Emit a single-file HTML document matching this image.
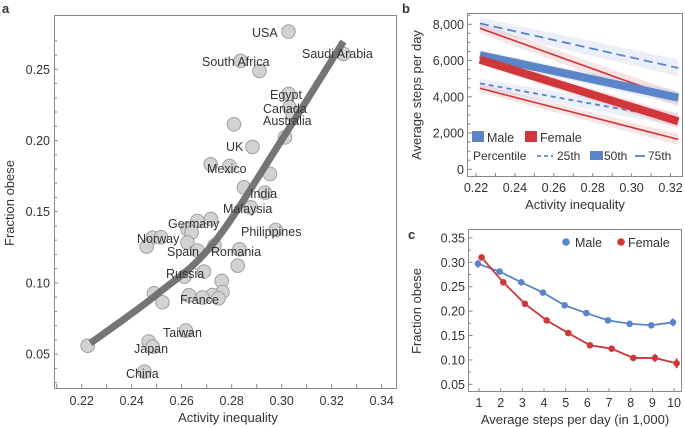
<!DOCTYPE html>
<html><head><meta charset="utf-8">
<style>
body{margin:0;background:#fff;font-family:"Liberation Sans",sans-serif;}
svg{display:block}
text{font-family:"Liberation Sans",sans-serif;fill:#333;}
</style></head>
<body>
<svg id="s" width="685" height="428" viewBox="0 0 685 428"></svg>
<script>
// ---------- Panel a data ----------
const aX=[0.3027,0.3247,0.2836,0.2911,0.3028,0.3031,0.3044,0.2809,0.3013,0.2883,0.2716,0.2791,0.2953,0.2849,0.2933,0.2876,0.2717,0.2663,0.2623,0.264,0.2976,0.2484,0.2517,0.246,0.2623,0.2663,0.2731,0.2831,0.2824,0.2689,0.2611,0.276,0.2763,0.2723,0.2629,0.2683,0.2747,0.2489,0.2523,0.2617,0.2468,0.2484,0.2451,0.2224];
const aY=[0.2765,0.2608,0.2559,0.2488,0.2327,0.2233,0.218,0.2114,0.2022,0.1955,0.1833,0.1821,0.1765,0.1671,0.1634,0.1531,0.1449,0.1435,0.1376,0.1355,0.1372,0.1318,0.132,0.1255,0.1283,0.1227,0.1262,0.1236,0.1121,0.1079,0.1044,0.1014,0.0936,0.0915,0.0913,0.0897,0.0892,0.0927,0.0864,0.0665,0.0588,0.0552,0.0377,0.0559];
const fitX=[0.2235,0.25,0.2727,0.30,0.3247];
const fitY=[0.0577,0.0918,0.1278,0.2004,0.2695];
const aXTicks=[0.22,0.24,0.26,0.28,0.30,0.32,0.34];
const aYTicks=[0.05,0.10,0.15,0.20,0.25];
const countryNames=["USA","Saudi Arabia","South Africa","Egypt","Canada","Australia","UK","Mexico","India","Malaysia","Germany","Philippines","Norway","Spain","Romania","Russia","France","Taiwan","Japan","China"];
const countryPos=[[252,37],[302,58],[202,66],[270,99],[263,113],[263,125],[226,151],[207,173],[250,198],[223,213],[168,228],[241,236],[137,243],[167,256],[211,256],[166,278],[180,304],[163,337],[134,353],[126,378]];
// ---------- Panel b data ----------
const bXTicks=[0.22,0.24,0.26,0.28,0.30,0.32];
const bYTicks=[0,2000,4000,6000,8000];
const bStartX=0.222, bEndX=0.324;
const male25=[8050,5590];
const male50=[6300,3950];
const male75=[4740,2750];
const female25=[7780,3850];
const female50=[6050,2650];
const female75=[4470,1650];
// ---------- Panel c data ----------
const cSteps=[1,2,3,4,5,6,7,8,9,10];
const cMale=[0.297,0.281,0.259,0.238,0.212,0.196,0.181,0.174,0.171,0.177];
const cMaleErr=[0.008,0.004,0.003,0.003,0.003,0.003,0.003,0.004,0.006,0.008];
const cFemale=[0.310,0.259,0.215,0.181,0.155,0.130,0.123,0.104,0.104,0.093];
const cFemaleErr=[0.005,0.003,0.003,0.003,0.003,0.004,0.005,0.006,0.008,0.010];
const cYTicks=[0.05,0.10,0.15,0.20,0.25,0.30,0.35];

const NS="http://www.w3.org/2000/svg";
const svg=document.getElementById('s');
function mk(tag,attrs,parent){const e=document.createElementNS(NS,tag);for(const k in attrs)e.setAttribute(k,attrs[k]);(parent||svg).appendChild(e);return e;}
function txt(x,y,s,attrs){const e=mk('text',Object.assign({x:x,y:y},attrs||{}));e.textContent=s;return e;}

// ===== Panel a =====
const ax=v=>81.7+(v-0.22)*2500;
const ay=v=>69.3-(v-0.25)*1424;
let t=txt(2,13,'a',{'font-weight':'bold','font-size':'13','fill':'#111'});


let fr=mk('rect',{x:54.5,y:15.5,width:342,height:373,fill:'none',stroke:'#888','stroke-width':1});


for(let v=0.21;v<=0.345;v+=0.01){const x=ax(v);mk('line',{x1:x,x2:x,y1:388,y2:384,stroke:'#888'});}
aXTicks.forEach(v=>{const e=txt(ax(v),405,v.toFixed(2),{'text-anchor':'middle','font-size':'12.5'});
 
 });
for(let i=3;i<=27;i++){const y=ay(i/100);mk('line',{x1:54,x2:i%5==0?58:57,y1:y,y2:y,stroke:'#888'});}
aYTicks.forEach(v=>{const e=txt(50,ay(v)+4.5,v.toFixed(2),{'text-anchor':'end','font-size':'12.5'});
 
 });
t=txt(228,422,'Activity inequality',{'text-anchor':'middle','font-size':'13'});


t=txt(14,203,'Fraction obese',{'text-anchor':'middle','font-size':'13',transform:'rotate(-90 14 203)'});


aX.forEach((v,i)=>{const c=mk('circle',{cx:ax(v),cy:ay(aY[i]),r:6.8,fill:'#d2d2d2',stroke:'#a0a0a0','stroke-width':1});
 
 });
(function(){const P=fitX.map((v,i)=>[ax(v),ay(fitY[i])]);let d='M'+P[0][0]+','+P[0][1];
 for(let i=0;i<P.length-1;i++){const p0=P[Math.max(0,i-1)],p1=P[i],p2=P[i+1],p3=P[Math.min(P.length-1,i+2)];
 d+=' C'+(p1[0]+(p2[0]-p0[0])/6)+','+(p1[1]+(p2[1]-p0[1])/6)+' '+(p2[0]-(p3[0]-p1[0])/6)+','+(p2[1]-(p3[1]-p1[1])/6)+' '+p2[0]+','+p2[1];}
 const pth=mk('path',{d:d,fill:'none',stroke:'#6e6e6e','stroke-width':7,'stroke-opacity':0.95});
 
 })();
countryNames.forEach((n,i)=>{const e=txt(countryPos[i][0],countryPos[i][1],n,{'font-size':'12.5','fill':'#222'});
 
 });

// ===== Panel b =====
const bx=v=>476+(v-0.22)*1945;
const by=v=>169.3-v*0.018125;
t=txt(402,13,'b',{'font-weight':'bold','font-size':'13','fill':'#111'});


fr=mk('rect',{x:467.5,y:13.5,width:215,height:163,fill:'none',stroke:'#888'});


for(let v=0.22;v<=0.325;v+=0.01){const x=bx(v);mk('line',{x1:x,x2:x,y1:176.5,y2:173,stroke:'#888'});}
bXTicks.forEach(v=>{const e=txt(bx(v),192,v.toFixed(2),{'text-anchor':'middle','font-size':'12.5'});
 
 });
for(let v=0;v<=8500;v+=500){const y=by(v);mk('line',{x1:467.5,x2:v%2000==0?472:470.5,y1:y,y2:y,stroke:'#888'});}
bYTicks.forEach(v=>{const e=txt(464,by(v)+4.5,v.toLocaleString('en-US'),{'text-anchor':'end','font-size':'12.5'});
 
 });
t=txt(575,209,'Activity inequality',{'text-anchor':'middle','font-size':'13'});


t=txt(421,95,'Average steps per day',{'text-anchor':'middle','font-size':'13',transform:'rotate(-90 421 95)'});


function band(vals,col,w,hw,dash,name){
 const x1=bx(bStartX),x2=bx(bEndX),y1=by(vals[0]),y2=by(vals[1]);
 const b=mk('polygon',{points:`${x1},${y1-hw} ${x2},${y2-hw*1.4} ${x2},${y2+hw*1.4} ${x1},${y1+hw}`,fill:col,'fill-opacity':0.13});
 
 
 const l=mk('line',{x1:x1,y1:y1,x2:x2,y2:y2,stroke:col,'stroke-width':w,'stroke-dasharray':dash||'none'});
 
 }
const BL='#5b84c9',RD='#d0363a';
band(male25,BL,1.8,6,'9,5','male-25th');
band(male75,BL,1.8,5,'5,4','male-75th');
band(female25,RD,1.6,5,null,'female-25th');
band(female75,RD,1.6,4,null,'female-75th');
band(male50,BL,8,5,null,'male-50th');
band(female50,RD,8,5,null,'female-50th');
let r=mk('rect',{x:472,y:131,width:12,height:11,fill:BL});


t=txt(487,142,'Male',{'font-size':'12.5'});


r=mk('rect',{x:525,y:131,width:12,height:11,fill:RD});


t=txt(540,142,'Female',{'font-size':'12.5'});


t=txt(473,160,'Percentile',{'font-size':'12'});


mk('line',{x1:537,x2:553,y1:156,y2:156,stroke:BL,'stroke-width':1.8,'stroke-dasharray':'4,3'});
t=txt(557,160,'25th',{'font-size':'12'});


mk('rect',{x:590,y:151,width:13,height:9,fill:BL});
t=txt(604,160,'50th',{'font-size':'12'});


mk('line',{x1:635,x2:645,y1:156,y2:156,stroke:BL,'stroke-width':1.8});
t=txt(648,160,'75th',{'font-size':'12'});



// ===== Panel c =====
const cx=v=>479+(v-1)*21.67;
const cy=v=>384.3-(v-0.05)*488;
t=txt(408,239,'c',{'font-weight':'bold','font-size':'13','fill':'#111'});


fr=mk('rect',{x:468.5,y:229.5,width:213,height:162,fill:'none',stroke:'#888'});


cSteps.forEach(v=>{mk('line',{x1:cx(v),x2:cx(v),y1:391.5,y2:388,stroke:'#888'});
 const e=txt(cx(v),407,String(v),{'text-anchor':'middle','font-size':'12.5'});
 
 });
for(let i=10;i<=35;i+=5){const y=cy((i-2.5)/100);mk('line',{x1:468.5,x2:471,y1:y,y2:y,stroke:'#888'});}
cYTicks.forEach(v=>{const y=cy(v);mk('line',{x1:468.5,x2:472.5,y1:y,y2:y,stroke:'#888'});
 const e=txt(465,y+4.5,v.toFixed(2),{'text-anchor':'end','font-size':'12.5'});
 
 });
t=txt(575,424,'Average steps per day (in 1,000)',{'text-anchor':'middle','font-size':'13'});


t=txt(421,311,'Fraction obese',{'text-anchor':'middle','font-size':'13',transform:'rotate(-90 421 311)'});


function series(vals,errs,col,off,name){
 const pts=cSteps.map((s,i)=>cx(s+off)+','+cy(vals[i])).join(' ');
 const l=mk('polyline',{points:pts,fill:'none',stroke:col,'stroke-width':1.8});
 
 
 cSteps.forEach((s,i)=>{const x=cx(s+off);
  mk('line',{x1:x,x2:x,y1:cy(vals[i]+errs[i]),y2:cy(vals[i]-errs[i]),stroke:col,'stroke-width':1.8});
  const c=mk('circle',{cx:x,cy:cy(vals[i]),r:3.3,fill:col});
  
  });}
series(cMale,cMaleErr,BL,-0.05,'male');
series(cFemale,cFemaleErr,RD,0.12,'female');
let c=mk('circle',{cx:566,cy:242,r:3.8,fill:BL});


t=txt(575,247,'Male',{'font-size':'12.5'});


c=mk('circle',{cx:621,cy:242,r:3.8,fill:RD});


t=txt(628,247,'Female',{'font-size':'12.5'});


</script>
</body></html>
